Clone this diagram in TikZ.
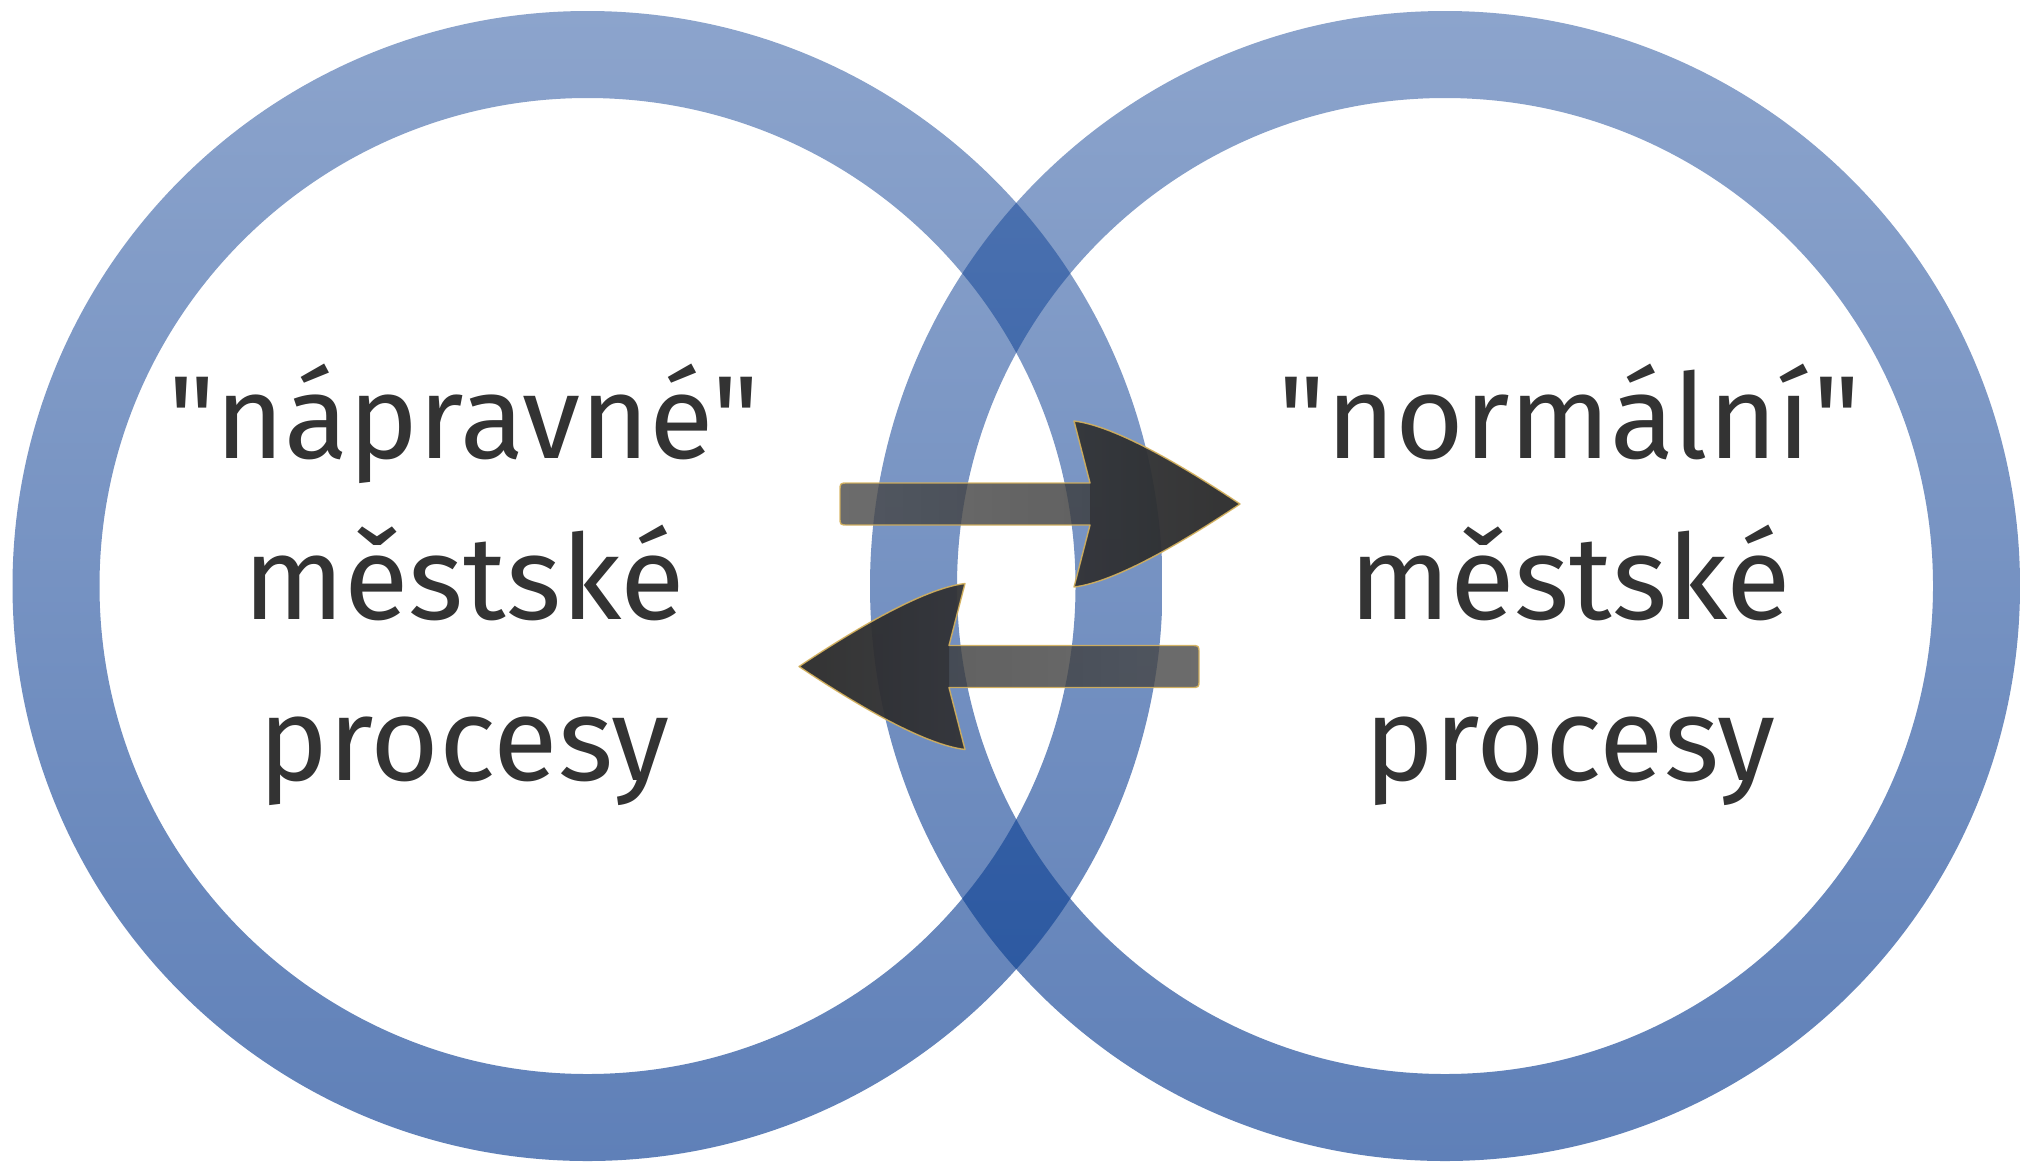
\documentclass[tikz,border=0pt]{standalone}
\usepackage{fontspec}
\setmainfont{Fira Sans}[Ligatures=TeXOff]
\usetikzlibrary{calc}

% ring colours (top / bottom of the vertical gradient)
\definecolor{ringTop}{RGB}{140,164,204}
\definecolor{ringBot}{RGB}{95,128,184}
% colours where the two rings overlap
\definecolor{lapTop}{RGB}{80,117,178}
\definecolor{lapBot}{RGB}{38,84,158}
% arrows
\definecolor{shaftTail}{RGB}{72,72,72}
\definecolor{shaftEnd}{RGB}{58,58,58}
\definecolor{headBack}{RGB}{50,51,54}
\definecolor{headTip}{RGB}{42,42,42}
\definecolor{arrowEdge}{RGB}{214,178,92}
\definecolor{labelInk}{RGB}{51,51,51}

\tikzset{
  x=0.5pt, y=-0.5pt,
  label text/.style={font=\fontsize{59}{70}\selectfont, text=labelInk, anchor=base, inner sep=0pt},
  shaft fill/.style={fill opacity=0.8},
  head fill/.style={fill opacity=0.95},
  arrow edge/.style={draw=arrowEdge, line width=0.7pt, draw opacity=0.9, line join=round},
}

\begin{document}
\begin{tikzpicture}
  \fill[white] (0,0) rectangle (2022,1163);
  \useasboundingbox (0,0) rectangle (2022,1163);

  \coordinate (cL) at (587.5,586);
  \coordinate (cR) at (1445,586);

  % the two rings
  \shade[even odd rule, top color=ringTop, bottom color=ringBot]
    (cL) circle (575) (cL) circle (488);
  \shade[even odd rule, top color=ringTop, bottom color=ringBot]
    (cR) circle (575) (cR) circle (488);

  % darker lens where the rings cross
  \begin{scope}[even odd rule]
    \clip (cL) circle (575) (cL) circle (488);
    \shade[top color=lapTop, bottom color=lapBot]
      (cR) circle (575) (cR) circle (488);
  \end{scope}

  % labels
  \node[label text] (L1) at (464,458) {"nápravné"};
  \node[label text] (L2) at (464,619) {městské};
  \node[label text] (L3) at (464,780) {procesy};
  \node[label text] (R1) at (1570,458) {"normální"};
  \node[label text] (R2) at (1570,619) {městské};
  \node[label text] (R3) at (1570,780) {procesy};

  % ---- arrow pointing right ----
  \shade[shaft fill, left color=shaftTail, right color=shaftEnd]
    (1090,483) -- (848,483) .. controls (840,483) .. (840,491)
    -- (840,517) .. controls (840,525) .. (848,525)
    -- (1090,525) -- cycle;
  \shade[head fill, left color=headBack, right color=headTip]
    (1090,483) -- (1074,421)
    .. controls (1116,426) and (1186,468) .. (1240,504)
    .. controls (1186,540) and (1116,582) .. (1074,587)
    -- (1090,525) -- cycle;
  \draw[arrow edge]
    (1090,483) -- (848,483) .. controls (840,483) .. (840,491)
    -- (840,517) .. controls (840,525) .. (848,525)
    -- (1090,525) -- (1074,587)
    .. controls (1116,582) and (1186,540) .. (1240,504)
    .. controls (1186,468) and (1116,426) .. (1074,421) -- cycle;

  % ---- arrow pointing left ----
  \shade[shaft fill, left color=shaftEnd, right color=shaftTail]
    (949,645.5) -- (1191,645.5) .. controls (1199,645.5) .. (1199,653.5)
    -- (1199,679.5) .. controls (1199,687.5) .. (1191,687.5)
    -- (949,687.5) -- cycle;
  \shade[head fill, left color=headTip, right color=headBack]
    (949,645.5) -- (965,583.5)
    .. controls (923,588.5) and (853,630.5) .. (799,666.5)
    .. controls (853,702.5) and (923,744.5) .. (965,749.5)
    -- (949,687.5) -- cycle;
  \draw[arrow edge]
    (949,645.5) -- (1191,645.5) .. controls (1199,645.5) .. (1199,653.5)
    -- (1199,679.5) .. controls (1199,687.5) .. (1191,687.5)
    -- (949,687.5) -- (965,749.5)
    .. controls (923,744.5) and (853,702.5) .. (799,666.5)
    .. controls (853,630.5) and (923,588.5) .. (965,583.5) -- cycle;
\end{tikzpicture}
\end{document}
